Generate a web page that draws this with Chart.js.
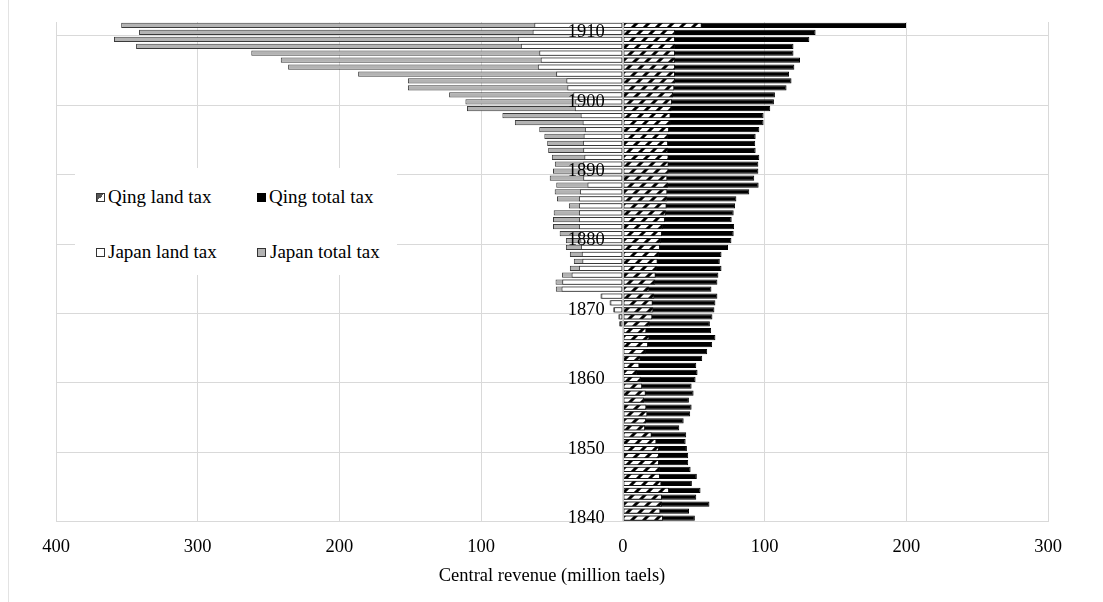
<!DOCTYPE html>
<html>
<head>
<meta charset="utf-8">
<script src="https://cdn.jsdelivr.net/npm/chart.js@4/dist/chart.umd.min.js"></script>
<style>
  body { margin: 0; background: #fff; }
  #wrap { position: relative; width: 1103px; height: 602px; }
  #frame { position: absolute; left: 8px; top: 0; width: 0; height: 602px; border-left: 1px solid #e3e3e3; }
  #legend { position: absolute; left: 75px; top: 168px; width: 322px; height: 107px; background: #fff;
            font-family: "Liberation Serif", "Times New Roman", serif; font-size: 19px; color: #000; }
  .item { position: absolute; white-space: nowrap; line-height: 22px; }
  .sw { display: inline-block; width: 7px; height: 7px; border: 1px solid #333; margin-right: 3px; vertical-align: 1px; }
</style>
</head>
<body>
<div id="wrap">
  <canvas id="taxChart"></canvas>
  <div id="frame"></div>
  <div id="legend">
    <div class="item" style="left:21px; top:18px;"><span class="sw" style="background: linear-gradient(to bottom right, #555 50%, #fff 50%);"></span>Qing land tax</div>
    <div class="item" style="left:182px; top:18px;"><span class="sw" style="background:#000; border-color:#000;"></span>Qing total tax</div>
    <div class="item" style="left:21px; top:73px;"><span class="sw" style="background:#fff;"></span>Japan land tax</div>
    <div class="item" style="left:182px; top:73px;"><span class="sw" style="background:#b3b3b3; margin-right:4px;"></span>Japan total tax</div>
  </div>
</div>
<script>
// years 1840 -> 1911
const years = [];
for (let yr = 1840; yr <= 1911; yr++) years.push(yr);

// million taels, 1840 -> 1911
const qingLand = [
  28.3, 26.5, 27.6, 27.6, 32.6, 27.2, 26.2, 26.2, 25.5, 25.5,
  25.5, 23.7, 20.4, 15.7, 16.4, 17.3, 16.6, 15.0, 16.2, 13.6,
  12.9, 10.1, 11.7, 12.4, 16.2, 17.8, 18.7, 16.6, 19.0, 20.8,
  21.5, 21.1, 22.2, 18.7, 22.9, 23.2, 23.9, 24.6, 25.5, 26.2,
  26.9, 27.6, 28.3, 29.7, 30.4, 30.9, 31.4, 31.4, 31.9, 31.4,
  32.3, 32.3, 32.3, 31.9, 31.9, 31.9, 32.6, 33.7, 33.7, 34.4,
  34.7, 35.4, 36.3, 36.8, 36.8, 36.8, 36.8, 36.8, 36.8, 36.8,
  36.8, 55.7
];
const qingTotal = [
  50.8, 46.7, 61.1, 51.8, 54.8, 48.7, 52.2, 47.8, 46.1, 46.1,
  45.2, 44.3, 44.7, 39.8, 42.9, 47.5, 48.5, 46.6, 49.9, 48.5,
  51.3, 52.7, 51.8, 56.0, 59.5, 63.0, 65.3, 62.3, 61.4, 63.2,
  64.6, 65.3, 66.7, 62.5, 66.7, 67.4, 69.6, 68.4, 69.6, 74.2,
  76.6, 78.2, 78.5, 76.8, 78.2, 79.2, 80.1, 89.2, 95.8, 92.7,
  95.6, 95.6, 96.3, 93.7, 93.4, 93.7, 96.3, 99.3, 99.3, 104.0,
  106.6, 107.3, 115.5, 119.0, 117.3, 121.0, 125.0, 120.4, 120.4, 131.6,
  136.0, 199.8
];
// Japan series start in 1868 (plotted to the left of zero)
const japanLand = [
  null, null, null, null, null, null, null, null, null, null,
  null, null, null, null, null, null, null, null, null, null,
  null, null, null, null, null, null, null, null, 2.0, 2.6,
  6.2, 8.8, 15.2, 43.3, 42.8, 36.2, 31.0, 28.6, 29.0, 29.6,
  30.0, 30.3, 31.0, 31.0, 31.0, 31.0, 31.0, 30.3, 25.0, 28.0,
  28.0, 28.0, 27.2, 28.0, 28.2, 27.7, 26.8, 28.4, 29.8, 33.9,
  33.6, 35.0, 39.2, 39.9, 47.1, 60.0, 58.0, 59.0, 72.0, 74.1,
  63.7, 62.5
];
const japanTotal = [
  null, null, null, null, null, null, null, null, null, null,
  null, null, null, null, null, null, null, null, null, null,
  null, null, null, null, null, null, null, null, 2.6, 3.2,
  6.8, 9.4, 15.8, 47.3, 47.5, 42.9, 37.4, 34.6, 37.4, 40.2,
  40.2, 44.6, 49.3, 49.3, 48.8, 38.1, 46.5, 48.1, 47.0, 51.6,
  49.3, 48.0, 50.1, 52.7, 53.4, 55.4, 59.0, 76.2, 85.0, 110.0,
  111.1, 122.6, 151.7, 151.7, 186.8, 236.2, 241.4, 262.2, 343.5, 359.1,
  341.4, 354.0
];

const xTicks = [-400, -300, -200, -100, 0, 100, 200, 300];
const serif = '"Liberation Serif", "Times New Roman", serif';

function makeHatch() {
  const c = document.createElement('canvas');
  c.width = 12; c.height = 12;
  const g = c.getContext('2d');
  g.fillStyle = '#fff';
  g.fillRect(0, 0, 12, 12);
  g.strokeStyle = '#000';
  g.lineWidth = 3;
  g.beginPath();
  g.moveTo(-3, 15); g.lineTo(15, -3);
  g.moveTo(-3, 3); g.lineTo(3, -3);
  g.moveTo(9, 15); g.lineTo(15, 9);
  g.stroke();
  return g.createPattern(c, 'repeat');
}

// year labels sit on the zero line, above the bars
const yearLabels = {
  id: 'yearLabels',
  afterDatasetsDraw(chart) {
    const { ctx, chartArea } = chart;
    const x = chart.scales.x, y = chart.scales.y;
    const x0 = x.getPixelForValue(0);
    ctx.save();
    ctx.strokeStyle = '#bdbdbd';
    ctx.lineWidth = 1;
    ctx.beginPath();
    ctx.moveTo(Math.round(x0) + 0.5, chartArea.top);
    ctx.lineTo(Math.round(x0) + 0.5, chartArea.bottom);
    ctx.stroke();
    ctx.font = '18.5px ' + serif;
    ctx.fillStyle = '#000';
    ctx.textAlign = 'right';
    ctx.textBaseline = 'middle';
    years.forEach((yr, i) => {
      if (yr % 10 === 0) ctx.fillText(String(yr), x0 - 18, y.getPixelForValue(i));
    });
    ctx.restore();
  }
};

const ctx = document.getElementById('taxChart').getContext('2d');
const hatch = makeHatch();
const neg = arr => arr.map(v => v === null ? null : -v);

new Chart(ctx, {
  type: 'bar',
  data: {
    labels: years,
    datasets: [
      {
        label: 'Qing land tax',
        data: qingLand,
        backgroundColor: hatch,
        borderColor: '#111',
        order: 1
      },
      {
        label: 'Qing total tax',
        data: qingTotal,
        backgroundColor: '#000',
        borderColor: '#000',
        order: 2
      },
      {
        label: 'Japan land tax',
        data: neg(japanLand),
        backgroundColor: '#fff',
        borderColor: '#3a3a3a',
        order: 1
      },
      {
        label: 'Japan total tax',
        data: neg(japanTotal),
        backgroundColor: '#b3b3b3',
        borderColor: '#3a3a3a',
        order: 2
      }
    ]
  },
  options: {
    indexAxis: 'y',
    responsive: true,
    maintainAspectRatio: false,
    animation: false,
    layout: { padding: { top: 22, right: 55, left: 0, bottom: 0 } },
    datasets: {
      bar: {
        grouped: false,
        borderWidth: 1,
        borderSkipped: false,
        barPercentage: 0.76,
        categoryPercentage: 1
      }
    },
    scales: {
      x: {
        min: -400,
        max: 300,
        afterBuildTicks: scale => { scale.ticks = xTicks.map(v => ({ value: v })); },
        afterFit: scale => { scale.height = 80.5; },
        grid: { color: '#d9d9d9', drawTicks: false },
        border: { display: false },
        ticks: {
          padding: 15,
          color: '#000',
          font: { family: serif, size: 18.5 },
          callback: value => Math.abs(value)
        },
        title: {
          display: true,
          text: 'Central revenue (million taels)',
          color: '#000',
          font: { family: serif, size: 18.5 },
          padding: { top: 4, bottom: 15 }
        }
      },
      y: {
        reverse: true,
        afterFit: scale => { scale.width = 56; },
        grid: {
          offset: true,
          drawTicks: false,
          color: c => (years[c.index] !== undefined && years[c.index] % 10 === 0) ? '#d9d9d9' : 'rgba(0,0,0,0)'
        },
        border: { display: false },
        ticks: { display: false }
      }
    },
    plugins: {
      legend: { display: false },
      tooltip: { enabled: false }
    }
  },
  plugins: [yearLabels]
});
</script>
</body>
</html>
